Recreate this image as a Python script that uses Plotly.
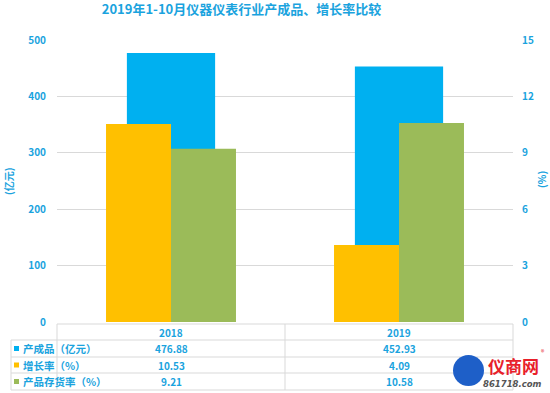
import plotly.graph_objects as go

categories = ["2018", "2019"]
output_value = [476.88, 452.93]       # 产成品（亿元）
growth_rate = [10.53, 4.09]           # 增长率（%）
inventory_rate = [9.21, 10.58]        # 产品存货率（%）
series_names = ["产成品（亿元）", "增长率（%）", "产品存货率（%）"]
left_ticks = [0, 100, 200, 300, 400, 500]
right_ticks = [0, 3, 6, 9, 12, 15]
title_text = "2019年1-10月仪器仪表行业产成品、增长率比较"

C_BLUE = "#00B0F0"
C_YEL = "#FFC000"
C_GRN = "#9BBB59"
C_TXT = "#1AA3DE"
C_GRID = "#D9D9D9"
FONT = "Noto Sans CJK SC"

W, H = 550, 393
# plot area in page pixels
PL, PR, PT, PB = 57, 513, 40, 322


def px(x):
    return (x - PL) / (PR - PL)


def py(y):
    return (PB - y) / (PB - PT)


fig = go.Figure()
fig.add_trace(go.Bar(x=categories, y=output_value, name=series_names[0],
                     marker=dict(color=C_BLUE, line=dict(width=0)),
                     width=0.387, offset=-0.1935, yaxis="y"))
fig.add_trace(go.Bar(x=categories, y=growth_rate, name=series_names[1],
                     marker=dict(color=C_YEL, line=dict(width=0)),
                     width=0.285, offset=-0.285, yaxis="y2"))
fig.add_trace(go.Bar(x=categories, y=inventory_rate, name=series_names[2],
                     marker=dict(color=C_GRN, line=dict(width=0)),
                     width=0.285, offset=0.0, yaxis="y2"))

shapes = []
annotations = []
line_style = dict(color=C_GRID, width=1)


def text(x, y, s, size=10, color=C_TXT, xanchor="center", family=FONT, angle=0, xref="paper"):
    annotations.append(dict(x=x, xref=xref, y=y, yref="paper", text=s, showarrow=False,
                            xanchor=xanchor, yanchor="middle", textangle=angle,
                            font=dict(family=family, size=size, color=color)))


# table horizontal lines
for yy in [340, 357, 373, 390]:
    shapes.append(dict(type="line", xref="paper", yref="paper",
                       x0=px(11), x1=px(513), y0=py(yy), y1=py(yy), line=line_style))
shapes.append(dict(type="line", xref="paper", yref="paper",
                   x0=px(57), x1=px(513), y0=py(324), y1=py(324), line=line_style))
# vertical lines
for xx in [57, 285, 513]:
    shapes.append(dict(type="line", xref="paper", yref="paper",
                       x0=px(xx), x1=px(xx), y0=py(324), y1=py(390), line=line_style))
shapes.append(dict(type="line", xref="paper", yref="paper",
                   x0=px(11), x1=px(11), y0=py(340), y1=py(390), line=line_style))

# header
for i, c in enumerate(categories):
    text(i, py(332), f"<b>{c}</b>", xref="x")

rows = [(output_value, C_BLUE, 348.5), (growth_rate, C_YEL, 365), (inventory_rate, C_GRN, 381.5)]
for (vals, col, yy), name in zip(rows, series_names):
    shapes.append(dict(type="rect", xref="paper", yref="paper",
                       x0=px(14), x1=px(19), y0=py(yy - 2.5), y1=py(yy + 2.5),
                       fillcolor=col, line=dict(width=0)))
    text(px(21), py(yy), f"<b>{name}</b>", size=10.5, xanchor="left")
    for i, v in enumerate(vals):
        text(i, py(yy), f"<b>{v:.2f}</b>", xref="x")

# axis titles
text(px(8), py(181), "<b>(亿元)</b>", angle=-90)
text(px(541), py(180), "<b>(%)</b>", angle=-90)

# watermark logo approximation
shapes.append(dict(type="circle", xref="paper", yref="paper",
                   x0=px(453), x1=px(484), y0=py(386), y1=py(355),
                   fillcolor="#1E5FC8", line=dict(width=0)))
text(px(513), py(365), "<b>仪商网</b>", size=17, color="#E8202A")
text(px(543), py(352), "®", size=7, color="#E8202A")
text(px(512), py(384), "<b><i>861718.com</i></b>", size=8.5, color="#555555", family="DejaVu Sans")

fig.update_layout(
    width=W, height=H,
    margin=dict(l=PL, r=W - PR, t=PT, b=H - PB),
    paper_bgcolor="white", plot_bgcolor="white",
    barmode="overlay", showlegend=False,
    title=dict(text=f"<b>{title_text}</b>", x=241.5 / W, xref="container", xanchor="center",
               y=1 - 9 / H, yref="container", yanchor="middle",
               font=dict(family=FONT, size=13, color=C_TXT)),
    xaxis=dict(type="category", range=[-0.5, 1.5], showticklabels=False, showgrid=False,
               showline=False, zeroline=False, ticks=""),
    yaxis=dict(range=[0, 500], tickvals=left_ticks, showgrid=True, gridcolor=C_GRID, gridwidth=1,
               zeroline=False, showline=False, ticks="", automargin=False, ticklabelstandoff=10,
               tickfont=dict(family=FONT, size=10, color=C_TXT, weight="bold")),
    yaxis2=dict(range=[0, 15], tickvals=right_ticks, overlaying="y", side="right", showgrid=False,
                zeroline=False, showline=False, ticks="", automargin=False, ticklabelstandoff=8,
                tickfont=dict(family=FONT, size=10, color=C_TXT, weight="bold")),
    shapes=shapes, annotations=annotations,
)

fig.write_html("out.html", config={"displayModeBar": False},
               post_script="document.body.style.margin='0';")
